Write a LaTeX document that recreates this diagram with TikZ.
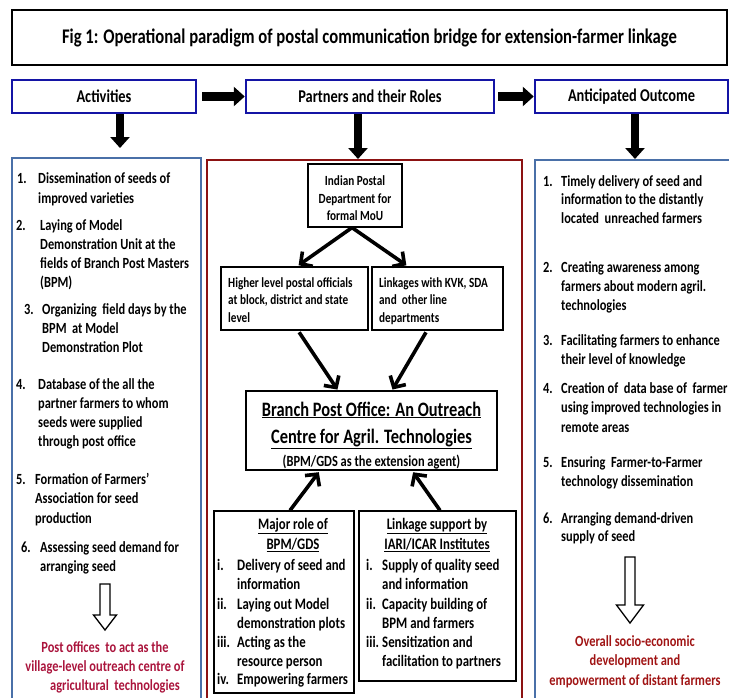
\documentclass[tikz,border=0pt]{standalone}
\usepackage{fontspec}
\setmainfont{Carlito}[FakeStretch=0.8]
\usetikzlibrary{arrows.meta,calc}
\definecolor{navyb}{RGB}{20,20,165}
\definecolor{steelb}{RGB}{74,112,168}
\definecolor{darkred}{RGB}{140,18,18}
\definecolor{crim}{RGB}{170,20,60}
\definecolor{redtxt}{RGB}{160,20,20}
\newcommand\fz[2]{\fontsize{#1}{#2}\selectfont\bfseries}
\newcommand\ls[1]{\begin{tabular}[t]{@{}l@{}}#1\end{tabular}}
\newcommand\lc[1]{\begin{tabular}[t]{@{}c@{}}#1\end{tabular}}
\newcommand\hollowarr[5]{% x, ytop, yhead, ytip, headhalf
  \draw[line width=1.3pt,line join=miter] ({#1-5},#2) -- ({#1+5},#2) -- ({#1+5},#3) -- ({#1+#5},#3) -- (#1,#4) -- ({#1-#5},#3) -- ({#1-5},#3) -- cycle;}
\begin{document}
\begin{tikzpicture}[x=1pt,y=-1pt,
  lbl/.style={anchor=base west,inner sep=0pt},
  hdr/.style={draw=navyb,line width=2.5pt,inner sep=0pt,font=\fz{18}{20}},
  col/.style={line width=2pt,inner sep=0pt},
  bx/.style={draw=black,line width=1.2pt,inner sep=0pt},
  blockarr/.style={line width=8.5pt,-{Triangle[width=19pt,length=11pt]}},
  thinarr/.style={line width=3.6pt,-{Straight Barb[length=8.5pt,width=18pt]}}]
\useasboundingbox (0,0) rectangle (729,697);
% title
\node[draw=black,line width=1.5pt,minimum width=715pt,minimum height=55pt,font=\fz{20.8}{24}] (title) at (369.5,37.5)
  {Fig 1: Operational paradigm of postal communication bridge for extension-farmer linkage};
% headers
\node[hdr,minimum width=184pt,minimum height=33pt] (act) at (104,96.5) {Activities};
\node[hdr,minimum width=248pt,minimum height=33pt] (part) at (370,96.5) {Partners and their Roles};
\node[hdr,minimum width=193pt,minimum height=33pt] (out) at (631.5,96.5) {Anticipated Outcome};
% columns
\node[col,draw=steelb,minimum width=189pt,minimum height=546pt] (lcol) at (106.5,431) {};
\node[col,draw=darkred,minimum width=315pt,minimum height=542pt] (mcol) at (364.5,431) {};
\node[col,draw=steelb,minimum width=205pt,minimum height=542pt] (rcol) at (637.5,431) {};
% header arrows
\draw[blockarr,shorten <=5pt] (act.east) -- (part.west);
\draw[blockarr,shorten <=3pt] (part.east) -- (out.west);
\draw[blockarr,shorten >=9pt] ([xshift=16pt]act.south) -- ([xshift=16pt]act.south |- lcol.north);
\draw[blockarr] ([xshift=-12pt]part.south) -- ([xshift=-12pt]part.south |- mcol.north);
\draw[blockarr] ([xshift=3.5pt]out.south) -- ([xshift=3.5pt]out.south |- rcol.north);
% middle boxes
\node[bx,minimum width=94pt,minimum height=63pt] (ipd) at (355,195.5) {};
\node[inner sep=0pt,anchor=base,font=\fz{14}{17.5}] (ipdt) at (355,185.5)
  {\lc{Indian Postal\\Department for\\formal MoU}};
\node[bx,minimum width=147pt,minimum height=63pt] (hl) at (294.5,298.5) {};
\node[bx,minimum width=131pt,minimum height=63pt] (lk) at (437.5,298.5) {};
\node[lbl,font=\fz{14}{17.5}] (hlt) at (228,287) {\ls{Higher level postal officials\\at block, district and state\\level}};
\node[lbl,font=\fz{14}{17.5}] (lkt) at (379,287) {\ls{Linkages with KVK, SDA\\and\ \ other line\\departments}};
\node[bx,minimum width=251pt,minimum height=79pt] (branch) at (371.5,430.5) {};
\node[inner sep=0pt,anchor=base,font=\fz{20.5}{23}] (brt) at (371.5,416)
  {\lc{\underline{Branch Post Office: An Outreach}\\[4pt]
   \underline{Centre for Agril. Technologies}\\
   \fz{15.5}{18}(BPM/GDS as the extension agent)}};
\node[bx,minimum width=140pt,minimum height=182pt] (major) at (284,602) {};
\node[bx,minimum width=157pt,minimum height=170pt] (linksup) at (437.5,596) {};
% middle arrows
\draw[thinarr,shorten >=2pt] ([xshift=-3pt]ipd.south) -- ([xshift=2.5pt]hl.north);
\draw[thinarr,shorten >=2pt] ([xshift=-3pt]ipd.south) -- ([xshift=-29.5pt]lk.north);
\draw[thinarr,shorten <=2pt,shorten >=1pt] ([xshift=3.5pt]hl.south) -- ([xshift=-33.5pt]branch.north);
\draw[thinarr,shorten <=2pt,shorten >=1pt] ([xshift=-10.5pt]lk.south) -- ([xshift=20.5pt]branch.north);
\draw[thinarr,shorten >=2pt] ([xshift=6pt]major.north) -- ([xshift=-51.5pt]branch.south);
\draw[thinarr,shorten >=2pt] ([xshift=2.5pt]linksup.north) -- ([xshift=40.5pt]branch.south);
% major role text
\node[inner sep=0pt,anchor=base,font=\fz{16}{20.5}] (mh) at (293,529) {\lc{\underline{Major role of}\\\underline{BPM/GDS}}};
\begin{scope}[font=\fz{16}{19}]
\node[lbl] (m1n) at (217,570) {i.};
\node[lbl] (m1t) at (237,570) {\ls{Delivery of seed and\\information}};
\node[lbl] (m2n) at (217,609) {ii.};
\node[lbl] (m2t) at (237,609) {\ls{Laying out Model\\demonstration plots}};
\node[lbl] (m3n) at (217,647) {iii.};
\node[lbl] (m3t) at (237,647) {\ls{Acting as the\\resource person}};
\node[lbl] (m4n) at (217,684) {iv.};
\node[lbl] (m4t) at (237,684) {Empowering farmers};
\end{scope}
\node[inner sep=0pt,anchor=base,font=\fz{16}{20.5}] (lh) at (437,529) {\lc{\underline{Linkage support by}\\\underline{IARI/ICAR Institutes}}};
\begin{scope}[font=\fz{16}{19}]
\node[lbl] (k1n) at (366,570) {i.};
\node[lbl] (k1t) at (382,570) {\ls{Supply of quality seed\\and information}};
\node[lbl] (k2n) at (366,609) {ii.};
\node[lbl] (k2t) at (382,609) {\ls{Capacity building of\\BPM and farmers}};
\node[lbl] (k3n) at (366,647) {iii.};
\node[lbl] (k3t) at (382,647) {\ls{Sensitization and\\facilitation to partners}};
\end{scope}
% left column
\begin{scope}[font=\fz{15.5}{19}]
\node[lbl] (l1n) at (17,183) {1.};
\node[lbl,font=\fz{15.5}{20}] (l1t) at (38,183) {\ls{Dissemination of seeds of\\improved varieties}};
\node[lbl] (l2n) at (16,230) {2.};
\node[lbl] (l2t) at (40,230) {\ls{Laying of Model\\Demonstration Unit at the\\fields of Branch Post Masters\\(BPM)}};
\node[lbl] (l3n) at (24,314) {3.};
\node[lbl] (l3t) at (42,314) {\ls{Organizing\ \ field days by the\\BPM\ \ at Model\\Demonstration Plot}};
\node[lbl] (l4n) at (16,389) {4.};
\node[lbl] (l4t) at (38,389) {\ls{Database of the all the\\partner farmers to whom\\seeds were supplied\\through post office}};
\node[lbl] (l5n) at (16,484) {5.};
\node[lbl,font=\fz{15.5}{19.5}] (l5t) at (35,484) {\ls{Formation of Farmers’\\Association for seed\\production}};
\node[lbl] (l6n) at (21,552) {6.};
\node[lbl] (l6t) at (40,552) {\ls{Assessing seed demand for\\arranging seed}};
\node[inner sep=0pt,anchor=base,text=crim] (lred) at (105,652)
  {\lc{Post offices\ \ to act as the\\village-level outreach centre of\\\hspace*{20pt}agricultural\ \ technologies}};
\end{scope}
\hollowarr{105}{584}{615}{630}{11.5}
% right column
\begin{scope}[font=\fz{15.5}{19}]
\node[lbl] (r1n) at (543,186) {1.};
\node[lbl,font=\fz{15.5}{18.5}] (r1t) at (561,186) {\ls{Timely delivery of seed and\\information to the distantly\\located\ \ unreached farmers}};
\node[lbl] (r2n) at (543,272) {2.};
\node[lbl] (r2t) at (561,272) {\ls{Creating awareness among\\farmers about modern agril.\\technologies}};
\node[lbl] (r3n) at (543,345) {3.};
\node[lbl] (r3t) at (561,345) {\ls{Facilitating farmers to enhance\\their level of knowledge}};
\node[lbl] (r4n) at (543,393) {4.};
\node[lbl,font=\fz{15.5}{19.5}] (r4t) at (561,393) {\ls{Creation of\ \ data base of\ \ farmer\\using improved technologies in\\remote areas}};
\node[lbl] (r5n) at (543,467) {5.};
\node[lbl] (r5t) at (561,467) {\ls{Ensuring\ \ Farmer-to-Farmer\\technology dissemination}};
\node[lbl] (r6n) at (543,523) {6.};
\node[lbl,font=\fz{15.5}{18.5}] (r6t) at (561,523) {\ls{Arranging demand-driven\\supply of seed}};
\node[inner sep=0pt,anchor=base,text=redtxt,font=\fz{15.5}{19.5}] (rred) at (635,646)
  {\lc{Overall socio-economic\\development and\\empowerment of distant farmers}};
\end{scope}
\hollowarr{630}{557}{605}{623}{13.5}
\end{tikzpicture}
\end{document}
